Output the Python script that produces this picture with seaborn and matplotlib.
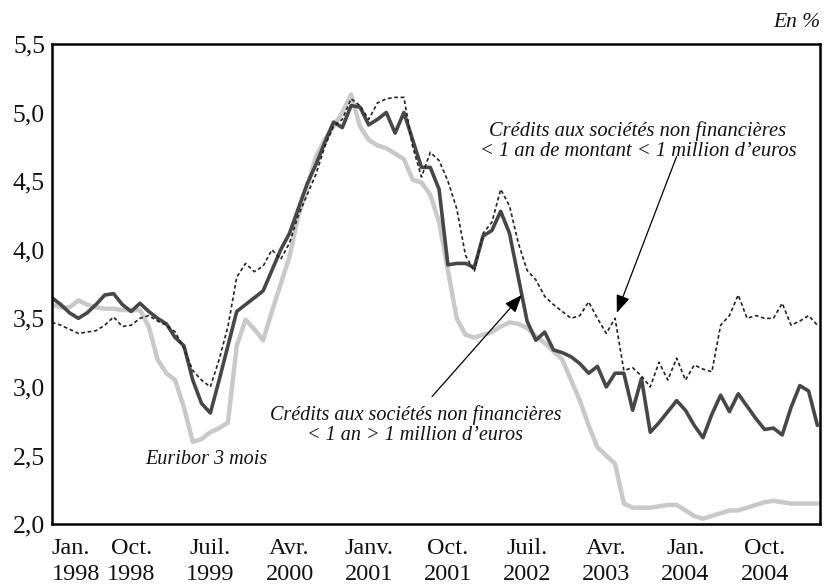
import matplotlib
matplotlib.use("Agg")
import matplotlib.pyplot as plt
import seaborn as sns
import numpy as np
import pandas as pd

# Monthly data, Jan 1998 (index 0) to Apr 2005 (index 87)
credits_gros = [3.65, 3.60, 3.54, 3.50, 3.54, 3.60, 3.67, 3.68, 3.60, 3.55,
                3.61, 3.55, 3.50, 3.46, 3.36, 3.30, 3.05, 2.88, 2.81, 3.05,
                3.30, 3.55, 3.60, 3.65, 3.70, 3.85, 4.00, 4.12, 4.30, 4.48,
                4.62, 4.78, 4.93, 4.89, 5.05, 5.04, 4.91, 4.95, 5.00, 4.85,
                5.00, 4.80, 4.60, 4.60, 4.44, 3.89, 3.90, 3.90, 3.87, 4.10,
                4.14, 4.28, 4.12, 3.80, 3.48, 3.34, 3.40, 3.27, 3.25, 3.22,
                3.17, 3.10, 3.15, 3.00, 3.10, 3.10, 2.83, 3.06, 2.67, 2.74,
                2.82, 2.90, 2.83, 2.72, 2.63, 2.80, 2.94, 2.82, 2.95, 2.86,
                2.77, 2.69, 2.70, 2.65, 2.85, 3.01, 2.97, 2.72]

credits_petits = [3.47, 3.45, 3.42, 3.39, 3.40, 3.41, 3.45, 3.51, 3.44, 3.45,
                  3.50, 3.52, 3.48, 3.45, 3.40, 3.28, 3.12, 3.05, 3.00, 3.20,
                  3.44, 3.80, 3.90, 3.84, 3.88, 4.00, 3.93, 4.05, 4.25, 4.40,
                  4.55, 4.75, 4.90, 4.95, 5.10, 5.05, 4.95, 5.07, 5.10, 5.11,
                  5.11, 4.75, 4.53, 4.71, 4.65, 4.50, 4.30, 3.96, 3.84, 4.12,
                  4.20, 4.44, 4.32, 4.05, 3.85, 3.78, 3.66, 3.60, 3.55, 3.50,
                  3.52, 3.62, 3.50, 3.39, 3.50, 3.12, 3.14, 3.08, 3.00, 3.18,
                  3.05, 3.21, 3.05, 3.16, 3.13, 3.11, 3.45, 3.52, 3.67, 3.50,
                  3.52, 3.50, 3.50, 3.61, 3.45, 3.48, 3.52, 3.45]

euribor = [3.60, 3.58, 3.58, 3.63, 3.60, 3.58, 3.57, 3.57, 3.56, 3.56,
           3.56, 3.44, 3.20, 3.10, 3.05, 2.85, 2.60, 2.62, 2.67, 2.70,
           2.74, 3.30, 3.49, 3.42, 3.34, 3.55, 3.75, 3.95, 4.25, 4.45,
           4.68, 4.80, 4.90, 5.00, 5.13, 4.90, 4.80, 4.76, 4.74, 4.70,
           4.66, 4.51, 4.49, 4.40, 4.20, 3.85, 3.50, 3.38, 3.36, 3.38,
           3.40, 3.44, 3.47, 3.46, 3.43, 3.37, 3.32, 3.26, 3.20, 3.05,
           2.90, 2.72, 2.56, 2.50, 2.44, 2.15, 2.12, 2.12, 2.12, 2.13,
           2.14, 2.14, 2.10, 2.06, 2.04, 2.06, 2.08, 2.10, 2.10, 2.12,
           2.14, 2.16, 2.17, 2.16, 2.15, 2.15, 2.15, 2.15]

tick_months = [0, 9, 18, 27, 36, 45, 54, 63, 72, 81]
tick_labels = ["Jan.\n1998", "Oct.\n1998", "Juil.\n1999", "Avr.\n2000", "Janv.\n2001",
               "Oct.\n2001", "Juil.\n2002", "Avr.\n2003", "Jan.\n2004", "Oct.\n2004"]
y_ticks = [2.0, 2.5, 3.0, 3.5, 4.0, 4.5, 5.0, 5.5]
y_labels = ["2,0", "2,5", "3,0", "3,5", "4,0", "4,5", "5,0", "5,5"]

months = np.arange(len(euribor))
df = pd.DataFrame({"mois": months, "gros": credits_gros,
                   "petits": credits_petits, "euribor": euribor})

sns.set_theme(style="white")
plt.rcParams["font.family"] = ["Liberation Serif", "DejaVu Serif"]

fig = plt.figure(figsize=(8.25, 5.85), dpi=100)
ax = fig.add_axes([0.063, 0.104, 0.931, 0.821])

sns.lineplot(data=df, x="mois", y="euribor", ax=ax, color="#c9c9c9", lw=3.2)
sns.lineplot(data=df, x="mois", y="gros", ax=ax, color="#474747", lw=2.6)
sns.lineplot(data=df, x="mois", y="petits", ax=ax, color="#222222", lw=1.2)
ax.lines[-1].set_dashes([2.2, 1.6])

ax.set_xlim(0, 87.3)
ax.set_ylim(2.0, 5.5)
ax.set_xlabel("")
ax.set_ylabel("")

ax.set_yticks(y_ticks)
ax.set_yticklabels(y_labels, fontsize=18.5)
ax.set_xticks(tick_months)
ax.set_xticklabels(tick_labels, fontsize=17.5, linespacing=1.3)
ax.get_xticklabels()[0].set_horizontalalignment("left")
ax.tick_params(axis="y", direction="in", length=15, width=1.8, pad=5, colors="black")
ax.tick_params(axis="x", direction="in", length=13, width=1.5, pad=10, colors="black")
for lab in ax.get_xticklabels() + ax.get_yticklabels():
    lab.set_color("#111111")

for sp in ax.spines.values():
    sp.set_visible(True)
    sp.set_color("black")
    sp.set_linewidth(1.8)

ax.text(66.6, 4.79, "Crédits aux sociétés non financières\n< 1 an de montant < 1 million d’euros",
        ha="center", va="center", fontsize=14.8, style="italic", linespacing=1.05,
        color="#111111")
ax.text(41.3, 2.72, "Crédits aux sociétés non financières\n< 1 an > 1 million d’euros",
        ha="center", va="center", fontsize=14.5, style="italic", linespacing=1.05,
        color="#111111")
ax.text(17.6, 2.47, "Euribor 3 mois", ha="center", va="center", fontsize=14.5,
        style="italic", color="#111111")

ax.annotate("", xy=(64.2, 3.54), xytext=(71.0, 4.68),
            arrowprops=dict(arrowstyle="-|>,head_length=0.9,head_width=0.35",
                            color="black", lw=0.9, shrinkA=0, shrinkB=0))
ax.annotate("", xy=(53.4, 3.67), xytext=(43.2, 2.93),
            arrowprops=dict(arrowstyle="-|>,head_length=0.9,head_width=0.35",
                            color="black", lw=0.9, shrinkA=0, shrinkB=0))

fig.text(0.994, 0.945, "En %", ha="right", va="bottom", fontsize=15.5, style="italic",
         color="#111111")

fig.savefig("out.png", dpi=100)
